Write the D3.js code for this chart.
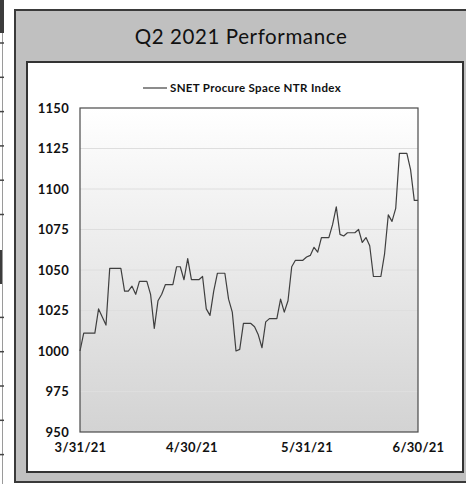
<!DOCTYPE html>
<html>
<head>
<meta charset="utf-8">
<script src="https://cdn.jsdelivr.net/npm/d3@7"></script>
<style>
  body { margin: 0; background: #fff; }
  svg { display: block; font-family: Lato, "DejaVu Sans", sans-serif; }
  .title { font-size: 20.5px; fill: #111; letter-spacing: 0.6px; }
  .legend { font-size: 11.5px; font-weight: bold; fill: #111; letter-spacing: 0.35px; }
  .axis text { font-size: 13px; font-weight: bold; fill: #111; font-family: Lato, sans-serif; letter-spacing: 0.3px; }
  .axis path, .axis line { display: none; }
</style>
</head>
<body>
<svg width="466" height="484"></svg>
<script>
// daily values, 3/31/21 .. 6/30/21 (weekends carry the friday close)
const startDate = "2021-03-31";
const endDate = "2021-06-30";
const indexValues = [
  1000, 1011, 1011, 1011, 1011, 1026, 1021, 1016, 1051, 1051,
  1051, 1051, 1037, 1037, 1040, 1035, 1043, 1043, 1043, 1035,
  1014, 1031, 1035, 1041, 1041, 1041, 1052, 1052, 1044, 1057,
  1044, 1044, 1044, 1046, 1026, 1022, 1037, 1048, 1048, 1048,
  1032, 1024, 1000, 1001, 1017, 1017, 1017, 1015, 1010, 1002,
  1018, 1020, 1020, 1020, 1032, 1024, 1031, 1052, 1056, 1056,
  1056, 1058, 1059, 1064, 1061, 1070, 1070, 1070, 1078, 1089,
  1072, 1071, 1073, 1073, 1073, 1075, 1067, 1070, 1065, 1046,
  1046, 1046, 1060, 1084, 1080, 1088, 1122, 1122, 1122, 1112,
  1093, 1093
];
const yTicks = [950, 975, 1000, 1025, 1050, 1075, 1100, 1125, 1150];
const xTickLabels = ["3/31/21", "4/30/21", "5/31/21", "6/30/21"];
const seriesName = "SNET Procure Space NTR Index";
const title = "Q2 2021 Performance";

const parseIso = d3.utcParse("%Y-%m-%d");
const parseLabel = d3.utcParse("%m/%d/%y");
const days = d3.utcDay.range(parseIso(startDate), d3.utcDay.offset(parseIso(endDate), 1));
const data = days.map((d, i) => ({ date: d, value: indexValues[i] }));

const svg = d3.select("svg");
const plot = { left: 80, top: 108, right: 418, bottom: 432 };

// bits of the neighbouring table at the left edge
svg.append("rect").attr("x", 0).attr("y", 0).attr("width", 4).attr("height", 33).attr("fill", "#3c3c3c");
svg.append("rect").attr("x", 0).attr("y", 250).attr("width", 3).attr("height", 34).attr("fill", "#3c3c3c");
svg.append("line").attr("x1", 2.5).attr("x2", 2.5).attr("y1", 33).attr("y2", 484)
  .attr("stroke", "#9a9a9a").attr("stroke-width", 1);
d3.range(43, 484, 34.3).forEach((y) => {
  if (y > 240 && y < 290) return;
  svg.append("line").attr("x1", 0).attr("x2", 4).attr("y1", y).attr("y2", y)
    .attr("stroke", "#444").attr("stroke-width", 1.5);
});

// outer grey panel
svg.append("rect")
  .attr("x", 15).attr("y", 10).attr("width", 455).attr("height", 472)
  .attr("fill", "#c0c0c0").attr("stroke", "#3a3a3a").attr("stroke-width", 2);
svg.append("text")
  .attr("class", "title")
  .attr("x", 241).attr("y", 44)
  .attr("text-anchor", "middle")
  .text(title);

// inner white panel
svg.append("rect")
  .attr("x", 27).attr("y", 62).attr("width", 436).attr("height", 410)
  .attr("fill", "#fff").attr("stroke", "#333").attr("stroke-width", 2);

const defs = svg.append("defs");
const grad = defs.append("linearGradient")
  .attr("id", "bg").attr("x1", 0).attr("y1", 0).attr("x2", 0).attr("y2", 1);
grad.append("stop").attr("offset", "0%").attr("stop-color", "#ffffff");
grad.append("stop").attr("offset", "100%").attr("stop-color", "#d3d3d3");

const x = d3.scaleUtc()
  .domain([parseIso(startDate), parseIso(endDate)])
  .range([plot.left, plot.right]);
const y = d3.scaleLinear()
  .domain([950, 1150])
  .range([plot.bottom, plot.top]);

svg.append("rect")
  .attr("x", plot.left).attr("y", plot.top)
  .attr("width", plot.right - plot.left).attr("height", plot.bottom - plot.top)
  .attr("fill", "url(#bg)");

svg.append("g")
  .selectAll("line")
  .data(yTicks.slice(1, -1))
  .join("line")
  .attr("x1", plot.left).attr("x2", plot.right)
  .attr("y1", (d) => y(d)).attr("y2", (d) => y(d))
  .attr("stroke", "#dedede").attr("stroke-width", 1);

const line = d3.line()
  .x((d) => x(d.date))
  .y((d) => y(d.value));
svg.append("path")
  .datum(data)
  .attr("d", line)
  .attr("fill", "none")
  .attr("stroke", "#3f3f3f")
  .attr("stroke-width", 1.2)
  .attr("stroke-linejoin", "round");

svg.append("rect")
  .attr("x", plot.left).attr("y", plot.top)
  .attr("width", plot.right - plot.left).attr("height", plot.bottom - plot.top)
  .attr("fill", "none").attr("stroke", "#4a4a4a").attr("stroke-width", 1.2);

const yAxis = d3.axisLeft(y).tickValues(yTicks).tickSize(0).tickPadding(11).tickFormat(d3.format("d"));
svg.append("g")
  .attr("class", "axis")
  .attr("transform", `translate(${plot.left},0)`)
  .call(yAxis);

const xAxis = d3.axisBottom(x)
  .tickValues(xTickLabels.map(parseLabel))
  .tickSize(0).tickPadding(11)
  .tickFormat((d, i) => xTickLabels[i]);
svg.append("g")
  .attr("class", "axis")
  .attr("transform", `translate(0,${plot.bottom})`)
  .call(xAxis);

// legend
const legend = svg.append("g").attr("transform", "translate(143,88)");
legend.append("line").attr("x1", 0).attr("x2", 24).attr("y1", 0).attr("y2", 0)
  .attr("stroke", "#3f3f3f").attr("stroke-width", 1.2);
legend.append("text").attr("class", "legend").attr("x", 27).attr("y", 4).text(seriesName);
</script>
</body>
</html>
